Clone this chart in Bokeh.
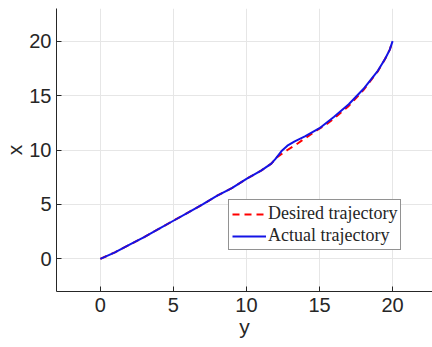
from bokeh.plotting import figure
from bokeh.models import Range1d, FixedTicker, Legend, LegendItem
from bokeh.embed import file_html
from bokeh.resources import INLINE

# Desired trajectory (y, x)
des_y = [0, 1, 2, 3, 4, 5, 6, 7, 8, 9, 10, 11, 11.7, 12.1, 12.8, 13.5, 14.2, 14.8, 15.5, 16, 17, 18, 19, 19.5, 19.8, 20]
des_x = [0, 0.6, 1.3, 2.0, 2.75, 3.5, 4.25, 5.0, 5.8, 6.5, 7.35, 8.1, 8.75, 9.35, 10.0, 10.6, 11.25, 11.8, 12.4, 12.9, 14.05, 15.5, 17.25, 18.4, 19.2, 20]
# Actual trajectory (y, x)
act_y = [0, 1, 2, 3, 4, 5, 6, 7, 8, 9, 10, 11, 11.7, 12.0, 12.4, 12.8, 13.3, 14, 15, 16, 17, 18, 19, 19.5, 19.8, 20]
act_x = [0, 0.6, 1.3, 2.0, 2.75, 3.5, 4.25, 5.0, 5.8, 6.5, 7.35, 8.1, 8.75, 9.2, 9.9, 10.4, 10.8, 11.25, 12.0, 13.05, 14.2, 15.6, 17.3, 18.4, 19.2, 20]
ticks = [0, 5, 10, 15, 20]

p = figure(width=432, height=340, output_backend="svg", toolbar_location=None,
           x_range=Range1d(-3, 22.73), y_range=Range1d(-3, 23),
           min_border_left=50, min_border_right=0, min_border_top=8, min_border_bottom=40)
p.outline_line_color = None
p.background_fill_color = "white"
p.border_fill_color = "white"

r1 = p.line(des_y, des_x, line_color="#ff0000", line_width=2, line_dash="7 5")
r2 = p.line(act_y, act_x, line_color="#1414e6", line_width=2)

for ax in (p.xaxis[0], p.yaxis[0]):
    ax.ticker = FixedTicker(ticks=ticks)
    ax.major_tick_in = 5
    ax.major_tick_out = 0
    ax.minor_tick_line_color = None
    ax.axis_line_color = "#262626"
    ax.major_tick_line_color = "#262626"
    ax.major_label_text_font = "Liberation Sans"
    ax.major_label_text_font_size = "20px"
    ax.major_label_text_color = "#262626"
    ax.axis_label_text_font = "Liberation Sans"
    ax.axis_label_text_font_size = "21px"
    ax.axis_label_text_font_style = "normal"
    ax.axis_label_text_color = "#262626"

p.xaxis.axis_label = "y"
p.yaxis.axis_label = "x"
p.xaxis.major_label_standoff = 6
p.xaxis.axis_label_standoff = 0
p.yaxis.major_label_standoff = 5
p.yaxis.axis_label_standoff = 0

for g in (p.xgrid[0], p.ygrid[0]):
    g.ticker = FixedTicker(ticks=ticks)
    g.grid_line_color = "#e6e6e6"
    g.grid_line_width = 1

legend = Legend(items=[LegendItem(label="Desired trajectory", renderers=[r1]),
                       LegendItem(label="Actual trajectory", renderers=[r2])],
                location=(172, 41))
legend.label_text_font = "Liberation Serif"
legend.label_text_font_size = "18px"
legend.label_text_color = "#262626"
legend.border_line_color = "#262626"
legend.border_line_width = 1
legend.glyph_width = 34
legend.glyph_height = 18
legend.label_height = 18
legend.label_standoff = 2
legend.spacing = 1
legend.padding = 3
legend.margin = 0
legend.background_fill_alpha = 1.0
p.add_layout(legend, "center")

open("out.html", "w").write(file_html(p, INLINE))
